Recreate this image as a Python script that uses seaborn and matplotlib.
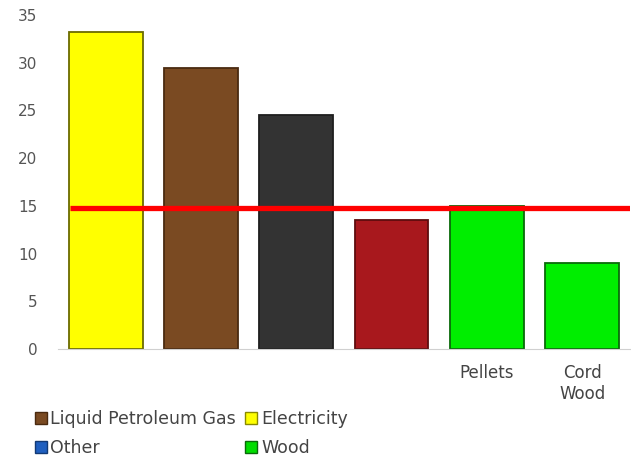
import matplotlib
matplotlib.use("Agg")
import matplotlib.pyplot as plt
from matplotlib.lines import Line2D
import seaborn as sns
import pandas as pd

# Cost per unit of heat by fuel source
fuels = ["Electricity", "Liquid Petroleum Gas", "Heating Oil", "Natural Gas", "Pellets", "Cord Wood"]
costs = [33.2, 29.4, 24.5, 13.5, 15.0, 9.0]
tick_labels = ["", "", "", "", "Pellets", "Cord\nWood"]
bar_colors = ["#FFFF00", "#7A4A22", "#333333", "#A8181D", "#00EE00", "#00EE00"]
edge_colors = ["#6B6B00", "#4A2A10", "#1E1E1E", "#5E0C0E", "#0A6A0A", "#0A6A0A"]
reference_level = 14.8

legend_labels = ["Liquid Petroleum Gas", "Other", "Electricity", "Wood"]
legend_colors = ["#7A4A22", "#1F5FBF", "#FFFF00", "#00DD00"]
legend_edges = ["#4A2A10", "#123a75", "#8a8a00", "#0A6A0A"]

sns.set_theme(style="white")
plt.rcParams["font.family"] = ["DejaVu Sans"]

df = pd.DataFrame({"fuel": fuels, "cost": costs})

fig = plt.figure(figsize=(6.31, 4.59), dpi=100)
ax = fig.add_axes([0.092, 0.2397, 0.906, 0.7276])

sns.barplot(data=df, x="fuel", y="cost", hue="fuel", palette=bar_colors,
            legend=False, width=0.775, saturation=1, ax=ax)
for patch, ec in zip(ax.patches, edge_colors):
    patch.set_edgecolor(ec)
    patch.set_linewidth(1.3)

ax.hlines(reference_level, -0.37, 5.5, color="#FF0000", linewidth=3.8, zorder=5)

ax.set_xlim(-0.5, 5.5)
ax.set_ylim(0, 35)
ax.set_yticks(range(0, 36, 5))
ax.set_xticks(range(len(fuels)))
ax.set_xticklabels(tick_labels, color="#444444", fontsize=12, linespacing=1.2)
ax.tick_params(axis="y", labelcolor="#555555", labelsize=11, pad=15, length=0)
ax.tick_params(axis="x", pad=11, length=0)
ax.set_xlabel("")
ax.set_ylabel("")

for side in ["top", "right", "left"]:
    ax.spines[side].set_visible(False)
ax.spines["bottom"].set_color("#D0D0D0")
ax.spines["bottom"].set_linewidth(0.8)

handles = [Line2D([0], [0], marker="s", linestyle="", markersize=8,
                  markerfacecolor=c, markeredgecolor=e, markeredgewidth=1)
           for c, e in zip(legend_colors, legend_edges)]
fig.legend(handles, legend_labels, ncol=2, loc="upper left",
           bbox_to_anchor=(0.045, 0.121), frameon=False, fontsize=12.5,
           handlelength=0.6, handletextpad=0.25, columnspacing=0.6,
           labelspacing=0.62, labelcolor="#444444", borderaxespad=0)

fig.savefig("out.png", dpi=100)
